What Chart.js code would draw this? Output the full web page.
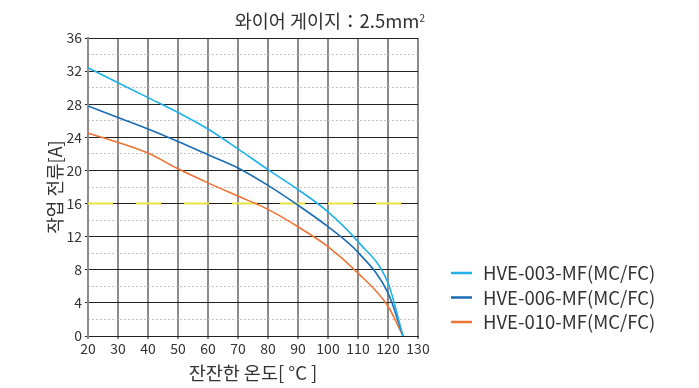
<!DOCTYPE html>
<html>
<head>
<meta charset="utf-8">
<script src="https://cdn.jsdelivr.net/npm/chart.js@4.4.0/dist/chart.umd.min.js"></script>
<style>
  body { margin: 0; background: #fff; }
  #wrap { width: 699px; height: 388px; }
</style>
</head>
<body>
<div id="wrap"><canvas id="chart" width="699" height="388"></canvas></div>
<script>
const temps = [20, 30, 40, 50, 60, 70, 80, 90, 100, 110, 120, 125];
const hve003 = [32.4, 30.6, 28.8, 27.0, 25.0, 22.6, 20.1, 17.7, 15.0, 11.4, 6.4, 0];
const hve006 = [27.8, 26.4, 25.0, 23.5, 21.9, 20.3, 18.2, 15.8, 13.2, 10.1, 5.2, 0];
const hve010 = [24.5, 23.4, 22.1, 20.2, 18.5, 16.9, 15.3, 13.2, 10.8, 7.6, 3.6, 0];
const limitX = [20, 125];
const limitY = [16, 16];

const seriesNames = ['HVE-003-MF(MC/FC)', 'HVE-006-MF(MC/FC)', 'HVE-010-MF(MC/FC)'];
const seriesColors = ['#1fb1ea', '#1a6db4', '#f07335'];
const xTicks = [20, 30, 40, 50, 60, 70, 80, 90, 100, 110, 120, 130];
const yMajor = [0, 4, 8, 12, 16, 20, 24, 28, 32, 36];
const yMinor = [2, 6, 10, 14, 18, 22, 26, 30, 34];

const font = "'Noto Sans CJK KR', 'Noto Sans', sans-serif";

function toPoints(xs, ys) {
    return xs.map((x, i) => ({ x: x, y: ys[i] }));
}

const overlay = {
    id: 'overlay',
    afterDraw(chart) {
        const c = chart.ctx;
        c.save();
        c.fillStyle = '#333';
        c.textBaseline = 'alphabetic';
        c.textAlign = 'right';
        c.font = '10px ' + font;
        const supW = c.measureText('2').width;
        c.fillText('2', 425, 22);
        c.font = '18.5px ' + font;
        c.fillText('와이어 게이지：2.5mm', 425 - supW, 28);

        // legend
        c.textAlign = 'left';
        c.textBaseline = 'middle';
        c.font = '18.5px ' + font;
        seriesNames.forEach((name, i) => {
            const y = 273 + i * 24.5;
            c.strokeStyle = seriesColors[i];
            c.lineWidth = 2.5;
            c.beginPath();
            c.moveTo(451, y);
            c.lineTo(472, y);
            c.stroke();
            c.fillStyle = '#333';
            c.fillText(name, 483, y);
        });
        c.restore();
    }
};

const ctx = document.getElementById('chart').getContext('2d');
new Chart(ctx, {
    type: 'line',
    data: {
        datasets: [
            {
                label: seriesNames[0],
                data: toPoints(temps, hve003),
                borderColor: seriesColors[0],
                borderWidth: 1.6,
                pointRadius: 0,
                cubicInterpolationMode: 'monotone'
            },
            {
                label: seriesNames[1],
                data: toPoints(temps, hve006),
                borderColor: seriesColors[1],
                borderWidth: 1.6,
                pointRadius: 0,
                cubicInterpolationMode: 'monotone'
            },
            {
                label: seriesNames[2],
                data: toPoints(temps, hve010),
                borderColor: seriesColors[2],
                borderWidth: 1.6,
                pointRadius: 0,
                cubicInterpolationMode: 'monotone'
            },
            {
                label: 'limit',
                data: toPoints(limitX, limitY),
                borderColor: '#e8e244',
                borderWidth: 2,
                borderDash: [25, 23],
                pointRadius: 0
            }
        ]
    },
    options: {
        responsive: false,
        animation: false,
        layout: { padding: { left: 40, top: 38, right: 281, bottom: 0 } },
        plugins: {
            legend: { display: false },
            tooltip: { enabled: false }
        },
        scales: {
            x: {
                type: 'linear',
                min: 20,
                max: 130,
                afterBuildTicks: axis => { axis.ticks = xTicks.map(v => ({ value: v })); },
                grid: { color: '#8c8c8c', lineWidth: 2, drawTicks: true, tickLength: 3 },
                border: { color: '#222', width: 1 },
                ticks: { color: '#333', font: { family: font, size: 14 }, padding: 1, maxRotation: 0 },
                title: { display: true, text: '잔잔한 온도[ °C ]', color: '#333', font: { family: font, size: 18.5 }, padding: { top: 6 } },
                afterFit: axis => { axis.height = 52; }
            },
            y: {
                min: 0,
                max: 36,
                afterBuildTicks: axis => { axis.ticks = yMajor.map(v => ({ value: v })); },
                ticks: { color: '#333', font: { family: font, size: 14 }, padding: 3 },
                grid: { color: '#222', lineWidth: 1, tickLength: 3 },
                border: { color: '#8c8c8c', width: 2 },
                title: { display: true, text: '작업 전류[A]', color: '#333', font: { family: font, size: 18 }, padding: { bottom: 2 } },
                afterFit: axis => { axis.width = 48; }
            },
            yMinor: {
                position: 'left',
                min: 0,
                max: 36,
                display: true,
                afterBuildTicks: axis => { axis.ticks = yMinor.map(v => ({ value: v })); },
                ticks: { display: false },
                grid: { color: '#c4c4c4', lineWidth: 1, drawTicks: false },
                border: { display: false, dash: [2, 2] },
                afterFit: axis => { axis.width = 0; }
            }
        }
    },
    plugins: [overlay]
});
</script>
</body>
</html>
